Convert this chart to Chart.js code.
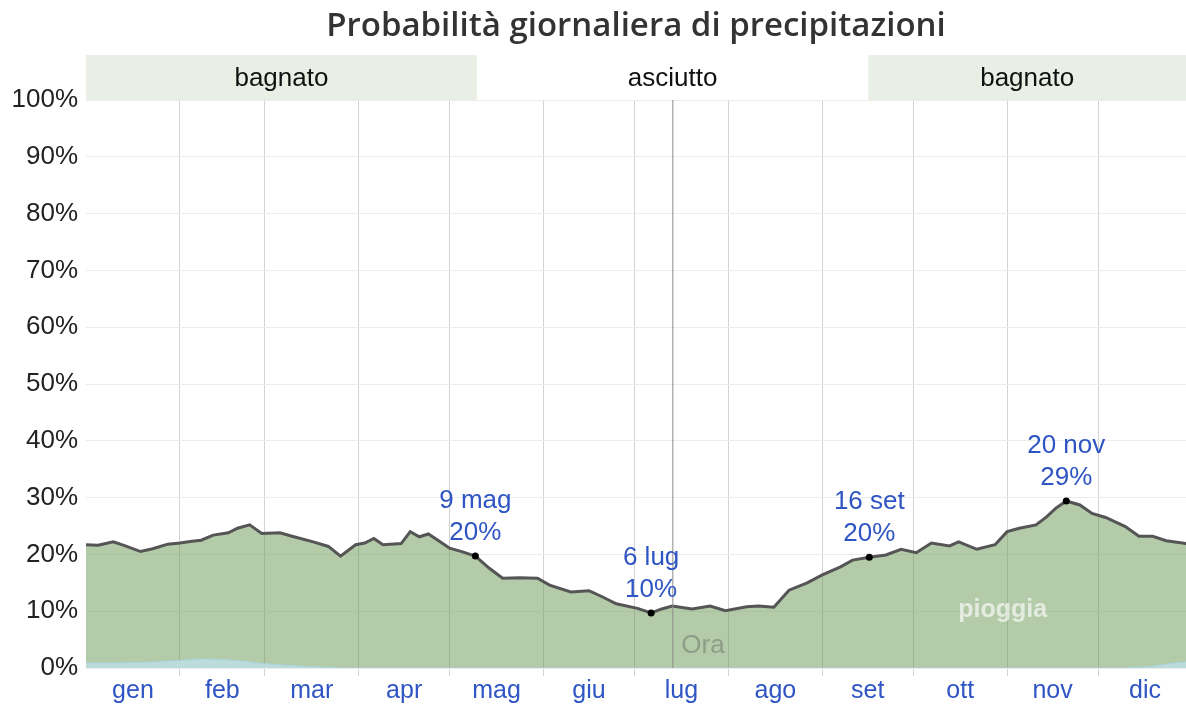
<!DOCTYPE html>
<html>
<head>
<meta charset="utf-8">
<script src="https://cdn.jsdelivr.net/npm/chart.js@4"></script>
<style>
  html, body { margin: 0; padding: 0; background: #fff; overflow: hidden; }
  #wrap { width: 1200px; height: 705px; }
</style>
</head>
<body>
<div id="wrap"><canvas id="rainChart" width="1200" height="705"></canvas></div>
<script>
// Giorni dell'anno (0 = 1 gen) e probabilità di pioggia in %
const rainDays = [0, 4, 9, 13, 18, 22, 27, 31, 35, 38, 42, 47, 50, 54, 58, 64, 68, 75, 80, 84,
  89, 92, 95, 98, 104, 107, 110, 113, 117, 120, 124, 128.5, 133, 137.5, 143, 149, 153, 160, 166, 170.5,
  175, 182, 186.5, 190, 193.5, 200, 206, 211, 218, 222, 227, 232, 238, 243, 249, 253, 258.5, 264, 269, 274,
  279, 285, 288, 294, 300, 304, 308, 313.5, 317, 320, 323.5, 328, 332, 336.5, 343, 347.5, 352, 356.5, 363, 365];
const rainValues = [21.7, 21.6, 22.2, 21.5, 20.5, 21.0, 21.8, 22.0, 22.3, 22.5, 23.4, 23.8, 24.6, 25.2, 23.7, 23.8, 23.2, 22.2, 21.4, 19.7,
  21.7, 22.0, 22.8, 21.7, 21.9, 24.0, 23.1, 23.6, 22.2, 21.1, 20.5, 19.7, 17.6, 15.8, 15.9, 15.8, 14.6, 13.4, 13.6, 12.5,
  11.3, 10.5, 9.7, 10.4, 10.9, 10.4, 10.9, 10.1, 10.8, 10.9, 10.7, 13.7, 15.0, 16.4, 17.8, 19.0, 19.5, 19.9, 20.9, 20.3,
  22.0, 21.5, 22.2, 20.9, 21.7, 24.0, 24.6, 25.2, 26.6, 28.1, 29.4, 28.7, 27.2, 26.5, 24.9, 23.2, 23.2, 22.4, 21.9, 21.8];

// Neve (piccola area azzurra in basso)
const snowDays = [0, 10, 20, 30, 38, 45, 52, 58, 66, 75, 84, 343, 352, 358, 365];
const snowValues = [0.9, 0.9, 1.0, 1.3, 1.6, 1.5, 1.2, 0.8, 0.5, 0.2, 0, 0, 0.3, 0.8, 1.2];

const monthStarts = [0, 31, 59, 90, 120, 151, 181, 212, 243, 273, 304, 334, 365];
const monthLabels = ["gen", "feb", "mar", "apr", "mag", "giu", "lug", "ago", "set", "ott", "nov", "dic"];
const yTicks = [0, 10, 20, 30, 40, 50, 60, 70, 80, 90, 100];

// Stagioni (fascia in alto)
const bandStarts = [0, 129, 258.2];
const bandEnds = [129, 258.2, 365];
const bandLabels = ["bagnato", "asciutto", "bagnato"];
const bandWet = [true, false, true];

// Etichette dei punti notevoli
const noteDays = [128.5, 186.5, 258.5, 323.5];
const noteValues = [19.7, 9.7, 19.5, 29.4];
const noteDates = ["9 mag", "6 lug", "16 set", "20 nov"];
const notePercents = ["20%", "10%", "20%", "29%"];

const nowDay = 193.5;
const chartTitle = "Probabilità giornaliera di precipitazioni";

const xTickValues = [];
monthStarts.forEach((d, i) => {
  xTickValues.push(d);
  if (i < 12) xTickValues.push((d + monthStarts[i + 1]) / 2);
});

const extras = {
  id: "extras",
  beforeDraw(chart) {
    const { ctx, chartArea: a, scales: { x } } = chart;
    ctx.save();
    // titolo centrato sull'area del grafico
    ctx.fillStyle = "#333";
    ctx.font = "600 33px 'Open Sans'";
    ctx.textAlign = "center";
    ctx.textBaseline = "middle";
    ctx.fillText(chartTitle, (a.left + 1186) / 2, 27);
    // fascia stagioni
    bandLabels.forEach((lab, i) => {
      const x0 = x.getPixelForValue(bandStarts[i]);
      const x1 = Math.min(x.getPixelForValue(bandEnds[i]), 1186);
      if (bandWet[i]) {
        ctx.fillStyle = "#e9efe5";
        ctx.fillRect(x0, 55, x1 - x0, a.top - 55);
      }
      ctx.fillStyle = "#111";
      ctx.font = "26px 'Liberation Sans'";
      ctx.fillText(lab, (x0 + x1) / 2, 79);
    });
    ctx.restore();
  },
  afterDatasetsDraw(chart) {
    const { ctx, chartArea: a, scales: { x, y } } = chart;
    ctx.save();
    // linea "Ora"
    const nx = x.getPixelForValue(nowDay);
    ctx.strokeStyle = "#8c8c8c";
    ctx.lineWidth = 1;
    ctx.beginPath();
    ctx.moveTo(nx + 0.5, a.top);
    ctx.lineTo(nx + 0.5, a.bottom);
    ctx.stroke();
    ctx.fillStyle = "rgba(110,120,105,0.55)";
    ctx.font = "26px 'Liberation Sans'";
    ctx.textAlign = "left";
    ctx.textBaseline = "middle";
    ctx.fillText("Ora", nx + 9, 646);
    // etichetta serie
    ctx.fillStyle = "rgba(255,255,255,0.65)";
    ctx.font = "bold 25px 'Liberation Sans'";
    ctx.textAlign = "center";
    ctx.fillText("pioggia", x.getPixelForValue(302.5), y.getPixelForValue(10.2));
    // punti notevoli
    noteDays.forEach((d, i) => {
      const px = x.getPixelForValue(d);
      const py = y.getPixelForValue(noteValues[i]);
      ctx.fillStyle = "#000";
      ctx.beginPath();
      ctx.arc(px, py, 3.5, 0, Math.PI * 2);
      ctx.fill();
      ctx.fillStyle = "#2f55c4";
      ctx.font = "26px 'Liberation Sans'";
      ctx.fillText(noteDates[i], px, py - 55);
      ctx.fillText(notePercents[i], px, py - 23);
    });
    ctx.restore();
  }
};

new Chart(document.getElementById("rainChart"), {
  type: "line",
  data: {
    datasets: [
      {
        label: "neve",
        data: snowDays.map((d, i) => ({ x: d, y: snowValues[i] })),
        borderColor: "#a9d3dc",
        backgroundColor: "#bcdcdc",
        borderWidth: 1,
        pointRadius: 0,
        fill: "origin",
        order: 0
      },
      {
        label: "pioggia",
        data: rainDays.map((d, i) => ({ x: d, y: rainValues[i] })),
        borderColor: "#555",
        backgroundColor: "rgba(105,151,83,0.5)",
        borderWidth: 3,
        pointRadius: 0,
        tension: 0,
        fill: "origin",
        order: 1
      }
    ]
  },
  options: {
    responsive: false,
    devicePixelRatio: 1,
    animation: false,
    layout: { padding: { top: 100, right: 8, left: 0, bottom: 0 } },
    plugins: {
      legend: { display: false },
      tooltip: { enabled: false },
      title: { display: false }
    },
    scales: {
      x: {
        type: "linear",
        min: 0,
        max: 365,
        afterBuildTicks: s => { s.ticks = xTickValues.map(v => ({ value: v })); },
        afterFit: s => { s.height = 37; },
        border: { display: false },
        grid: {
          color: c => {
            const v = c.tick && c.tick.value;
            if (v === 0 || v === 365) return "transparent";
            return monthStarts.includes(v) ? "#d2d2d2" : "transparent";
          },
          tickLength: 8
        },
        ticks: {
          autoSkip: false,
          maxRotation: 0,
          padding: 0,
          color: "#2f55c4",
          font: { family: "'Liberation Sans'", size: 25 },
          callback: v => {
            const i = monthStarts.findIndex((d, k) => k < 12 && (d + monthStarts[k + 1]) / 2 === v);
            return i >= 0 ? monthLabels[i] : "";
          }
        }
      },
      y: {
        min: 0,
        max: 100,
        afterBuildTicks: s => { s.ticks = yTicks.map(v => ({ value: v })); },
        afterFit: s => { s.width = 86; },
        border: { display: false },
        grid: { color: "#ececec", drawTicks: false },
        ticks: {
          padding: 8,
          color: "#222",
          font: { family: "'Liberation Sans'", size: 26 },
          callback: v => v + "%"
        }
      }
    }
  },
  plugins: [extras]
});
</script>
</body>
</html>
